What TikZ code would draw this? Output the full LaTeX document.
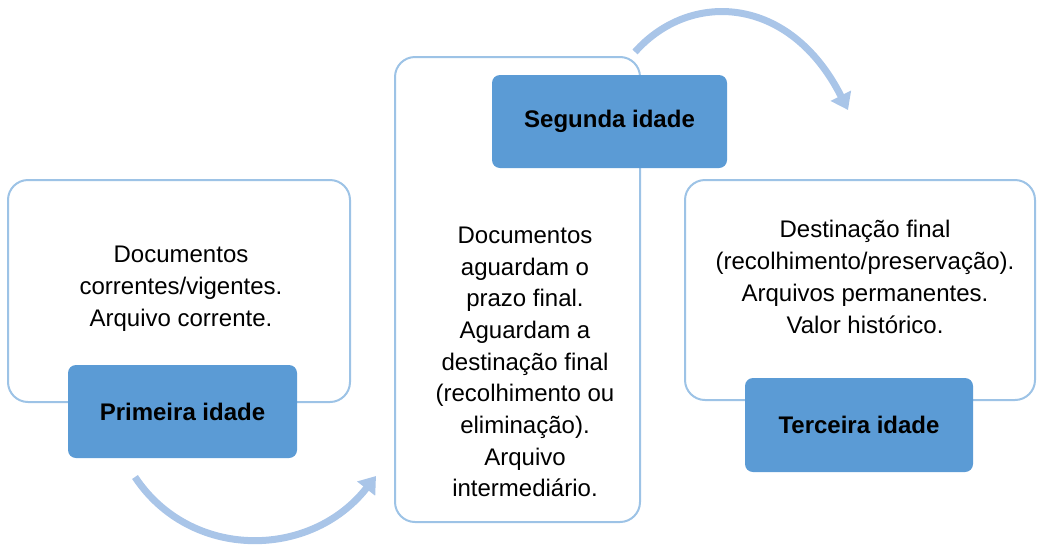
\documentclass[tikz,border=0pt]{standalone}
\usepackage{fontspec}
\setmainfont{Liberation Sans}
\usetikzlibrary{arrows.meta}
\definecolor{outl}{HTML}{9DC3E6}
\definecolor{labfill}{HTML}{5B9BD5}
\definecolor{arrcol}{HTML}{A9C5E8}
\begin{document}
\begin{tikzpicture}[x=1pt,y=-1pt,
  panel/.style={draw=outl, line width=2pt, fill=white, rounded corners=20pt, inner sep=0pt},
  agelabel/.style={fill=labfill, rounded corners=8pt, font=\fontsize{24}{28}\selectfont\bfseries, inner sep=0pt},
  bodytext/.style={font=\fontsize{24}{32}\selectfont, align=center, inner sep=0pt},
  flow/.style={draw=arrcol, line width=7pt, -{Triangle[length=16pt,width=22pt]}}]
\useasboundingbox (0,0) rectangle (1040,544);
% panels
\node[panel, minimum width=342pt, minimum height=222pt] (p1) at (179,291) {};
\node[panel, minimum width=245pt, minimum height=465pt] (p2) at (517.5,289.5) {};
\node[panel, minimum width=350pt, minimum height=220pt] (p3) at (860,290) {};
% texts
\node[bodytext] (t1) at (181,289) {Documentos\\correntes/vigentes.\\Arquivo corrente.};
\node[bodytext, font=\fontsize{24}{31.7}\selectfont] (t2) at (525,362) {Documentos\\aguardam o\\prazo final.\\Aguardam a\\destinação final\\(recolhimento ou\\eliminação).\\Arquivo\\intermediário.};
\node[bodytext] (t3) at (865,277) {Destinação final\\(recolhimento/preservação).\\Arquivos permanentes.\\Valor histórico.};
% labels
\node[agelabel, minimum width=229pt, minimum height=93pt] (l1) at (182.5,411.5) {\raisebox{-2pt}{Primeira idade}};
\node[agelabel, minimum width=235pt, minimum height=93pt] (l2) at (609.5,121.5) {\raisebox{-2pt}{Segunda idade}};
\node[agelabel, minimum width=228pt, minimum height=94pt] (l3) at (859,425) {Terceira idade};
% arrows
\coordinate (a1s) at (135,477);
\coordinate (a1e) at (376,476);
\coordinate (a2s) at (635,52);
\coordinate (a2e) at (848,110);
\draw[flow] (a1s) .. controls (190,560) and (310,560) .. (a1e);
\draw[flow] (a2s) .. controls (690,-10) and (790,-5) .. (a2e);
\end{tikzpicture}
\end{document}
